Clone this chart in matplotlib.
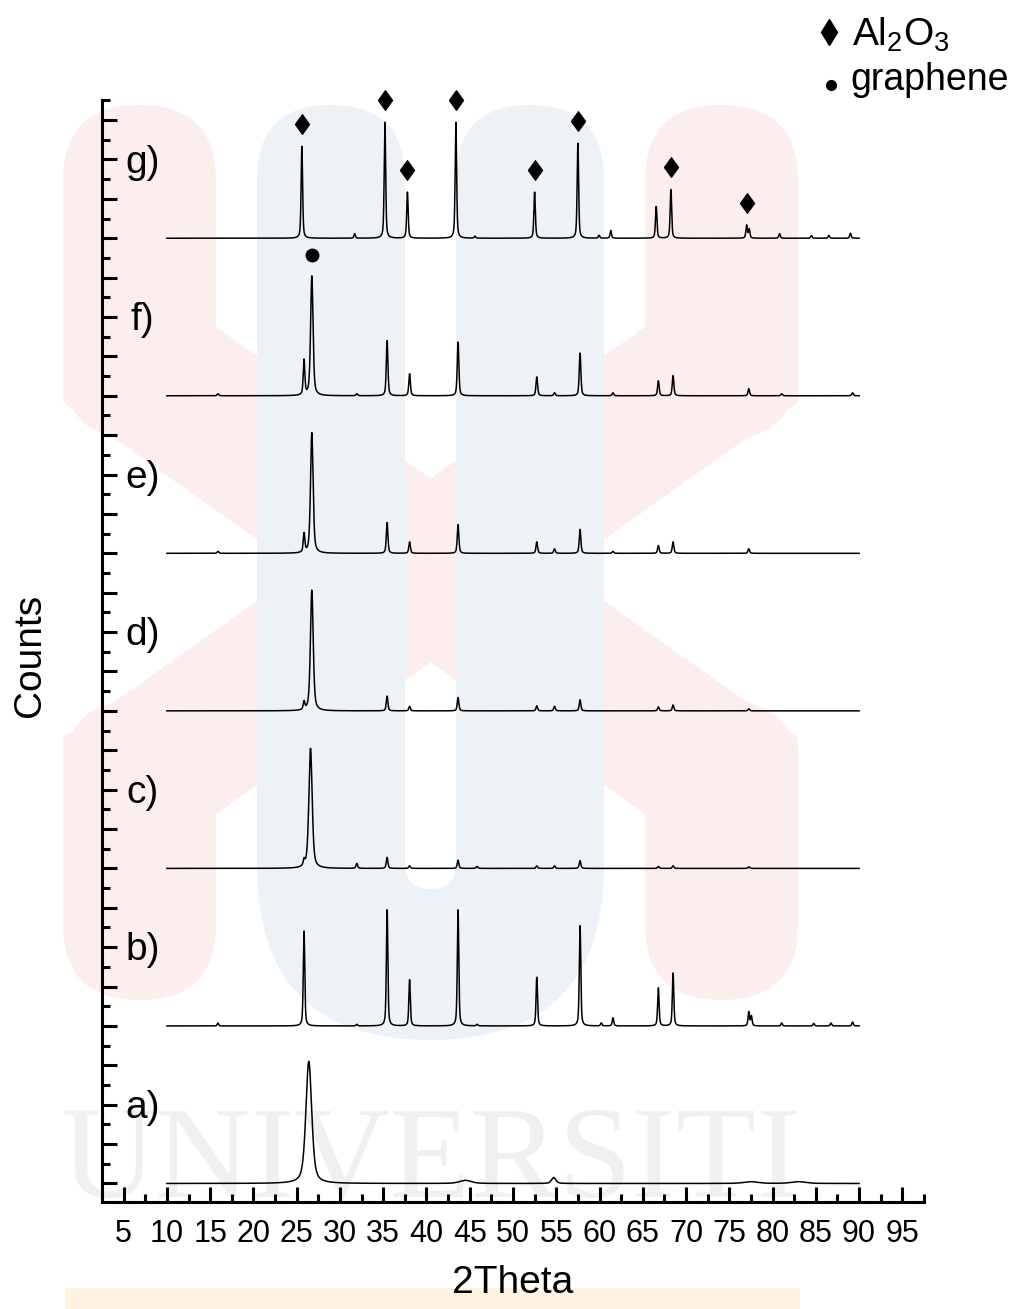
import numpy as np
import matplotlib.pyplot as plt
from matplotlib.patches import FancyBboxPatch, Polygon, Rectangle
from matplotlib.lines import Line2D
from matplotlib.transforms import IdentityTransform
from matplotlib.ticker import MultipleLocator, NullFormatter

plt.rcParams['font.family'] = ['Liberation Sans', 'DejaVu Sans']
plt.rcParams['mathtext.fontset'] = 'custom'
plt.rcParams['mathtext.rm'] = 'Liberation Sans'

W, H = 1023, 1309

# ---------------- data ----------------
labels = ['a)', 'b)', 'c)', 'd)', 'e)', 'f)', 'g)']
offset = 4000          # shift between stacked patterns (counts)
two_theta_range = [10, 90]

# Al2O3 reflections (2theta, deg) and heights (counts) for patterns b..g
al_pos = [15.9, 25.85, 31.95, 35.45, 38.05, 43.65, 45.85, 52.75, 54.8, 57.75,
          60.2, 61.55, 66.8, 68.5, 77.25, 77.55, 81.05, 84.75, 86.75, 89.25]
h_b = [75, 2430, 40, 2970, 1180, 2970, 40, 1245, 0, 2565,
       75, 205, 965, 1345, 355, 250, 75, 65, 75, 100]
h_c = [0, 150, 125, 280, 65, 210, 50, 65, 65, 195,
       0, 0, 50, 65, 40, 0, 0, 0, 0, 0]
h_d = [0, 200, 0, 375, 115, 340, 0, 125, 115, 280,
       0, 0, 100, 150, 50, 0, 0, 0, 0, 0]
h_e = [50, 480, 0, 785, 290, 735, 0, 290, 115, 610,
       0, 50, 200, 290, 115, 0, 0, 0, 0, 0]
h_f = [50, 890, 50, 1410, 560, 1370, 0, 480, 75, 1090,
       0, 75, 380, 510, 180, 0, 50, 0, 0, 75]
h_g = [0, 2335, 115, 2945, 1170, 2945, 50, 1170, 0, 2410,
       75, 195, 810, 1245, 330, 230, 115, 65, 75, 125]
al_width = [0.2, 0.22, 0.22, 0.22, 0.22, 0.2]   # FWHM for b..g
pos_shift = [0, 0, 0, 0, 0, -0.25]              # peak shift for b..g

# graphene (002) reflection for patterns c..f
gr_pos = [26.6, 26.75, 26.75, 26.75]
gr_h = [3045, 3070, 3070, 3045]
gr_w = [0.45, 0.38, 0.35, 0.33]

# pattern a) (graphene only)
a_pos = [26.4, 44.5, 54.7, 77.5, 83.0]
a_h = [3100, 80, 150, 45, 45]
a_w = [0.8, 1.6, 0.6, 2.0, 2.0]

# peaks marked in pattern g) (indices into al_pos)
marked_al = [1, 3, 4, 5, 7, 9, 13, 14]
mark_gap = 560


def peak(x, x0, h, w):
    d = ((x - x0) / (w / 2)) ** 2
    return h * (0.5 / (1 + d) + 0.5 * np.exp(-np.log(2) * d))


def px(x, y):
    # image pixel (top-left origin) -> display coords
    return (x, H - y)


def rbox(x0, x1, y0, y1, color, r, z):
    p = FancyBboxPatch(px(x0, y1), x1 - x0, y1 - y0,
                       boxstyle=f"round,pad=0,rounding_size={r}",
                       transform=IdentityTransform(), fc=color, ec='none', zorder=z)
    fig.add_artist(p)
    return p


fig = plt.figure(figsize=(W / 100, H / 100), dpi=100)

# ---------------- background watermark ----------------
pink = '#fdeeee'
blue = '#edf2f7'
stroke = [(63, 300), (216, 300), (216, 327), (798, 738), (798, 850),
          (645, 850), (645, 814), (63, 402)]
strokes = [stroke, [(861 - a, b) for a, b in stroke]]
for pts in strokes:
    fig.add_artist(Polygon([px(*p) for p in pts], closed=True, transform=IdentityTransform(),
                           fc=pink, ec='none', zorder=-5))
rbox(63, 216, 105, 440, pink, 76, -5)
rbox(645, 798, 105, 440, pink, 76, -5)
rbox(63, 216, 700, 1000, pink, 76, -5)
rbox(645, 798, 700, 1000, pink, 76, -5)

rbox(257, 405, 105, 900, blue, 74, -4)
rbox(456, 604, 105, 900, blue, 74, -4)
rbox(257, 604, 600, 1040, blue, 174, -4)
slot = rbox(405, 456, -200, 889, 'white', 25, -3)
for pts in strokes:
    pg = Polygon([px(*p) for p in pts], closed=True, transform=IdentityTransform(),
                 fc=pink, ec='none', zorder=-2)
    fig.add_artist(pg)
    pg.set_clip_path(slot)

fig.text(60 / W, 1 - 1197 / H, 'UNIVERSITI', fontsize=95, family='Liberation Serif',
         color='#f0f0f0', va='baseline', ha='left', zorder=-1)
fig.add_artist(Rectangle(px(65, 1309), 735, 21, transform=IdentityTransform(),
                         fc='#fff2e0', ec='none', zorder=-1))

# ---------------- plot ----------------
ax = fig.add_axes([102 / W, 1 - 1202 / H, 822 / W, 1102 / H])
ax.patch.set_alpha(0)

x = np.arange(two_theta_range[0], two_theta_range[1] + 0.001, 0.02)

# a)
ya = np.zeros_like(x)
for p, h, w in zip(a_pos, a_h, a_w):
    ya += peak(x, p, h, w)
ax.plot(x, ya, color='black', lw=1.1)

heights = [h_b, h_c, h_d, h_e, h_f, h_g]
for i, hs in enumerate(heights):
    base = (i + 1) * offset
    y = np.zeros_like(x)
    for p, h in zip(al_pos, hs):
        if h > 0:
            y += peak(x, p + pos_shift[i], h, al_width[i])
    if 1 <= i <= 4:
        y += peak(x, gr_pos[i - 1], gr_h[i - 1], gr_w[i - 1])
    ax.plot(x, base + y, color='black', lw=1.1)

for i, lab in enumerate(labels):
    ax.text(7.2, i * offset + 1920, lab, fontsize=28, ha='center', va='center')

# phase markers
diamond = [(-0.72, 0), (0, 1), (0.72, 0), (0, -1), (-0.72, 0)]
gbase = 6 * offset
mx = [al_pos[k] + pos_shift[5] for k in marked_al]
my = [gbase + h_g[k] + mark_gap for k in marked_al]
ax.plot(mx, my, ls='none', marker=diamond, ms=14, color='black', clip_on=False)
ax.plot([gr_pos[3]], [5 * offset + gr_h[3] + 520], ls='none', marker='o', ms=9,
        color='black', clip_on=False)

ax.set_xlim(2.5, 97.5)
ax.set_ylim(-470, 27510)
ax.xaxis.set_major_locator(MultipleLocator(5))
ax.xaxis.set_minor_locator(MultipleLocator(2.5))
ax.yaxis.set_major_locator(MultipleLocator(1000))
ax.yaxis.set_minor_locator(MultipleLocator(500))
ax.yaxis.set_major_formatter(NullFormatter())
for s in ['top', 'right']:
    ax.spines[s].set_visible(False)
for s in ['left', 'bottom']:
    ax.spines[s].set_linewidth(2.2)
ax.tick_params(which='major', direction='in', length=10.5, width=2.2, labelsize=22, pad=12)
ax.tick_params(which='minor', direction='in', length=5.5, width=2.2)

fig.text(513 / W, 1 - 1283 / H, '2Theta', fontsize=28, ha='center', va='center')
fig.text(30 / W, 1 - 655 / H, 'Counts', fontsize=28, ha='center', va='center', rotation=90)

# legend (top right)
fig.add_artist(Line2D([829 / W], [1 - 32 / H], transform=fig.transFigure, ls='none',
                      marker='d', ms=13, color='black'))
fig.text(852 / W, 1 - 35 / H, r'$\mathregular{Al_2O_3}$', fontsize=28, ha='left', va='center')
fig.add_artist(Line2D([831 / W], [1 - 85 / H], transform=fig.transFigure, ls='none',
                      marker='o', ms=7, color='black'))
fig.text(850 / W, 1 - 80 / H, 'graphene', fontsize=27, ha='left', va='center')

fig.savefig('out.png', dpi=100, facecolor='white')
